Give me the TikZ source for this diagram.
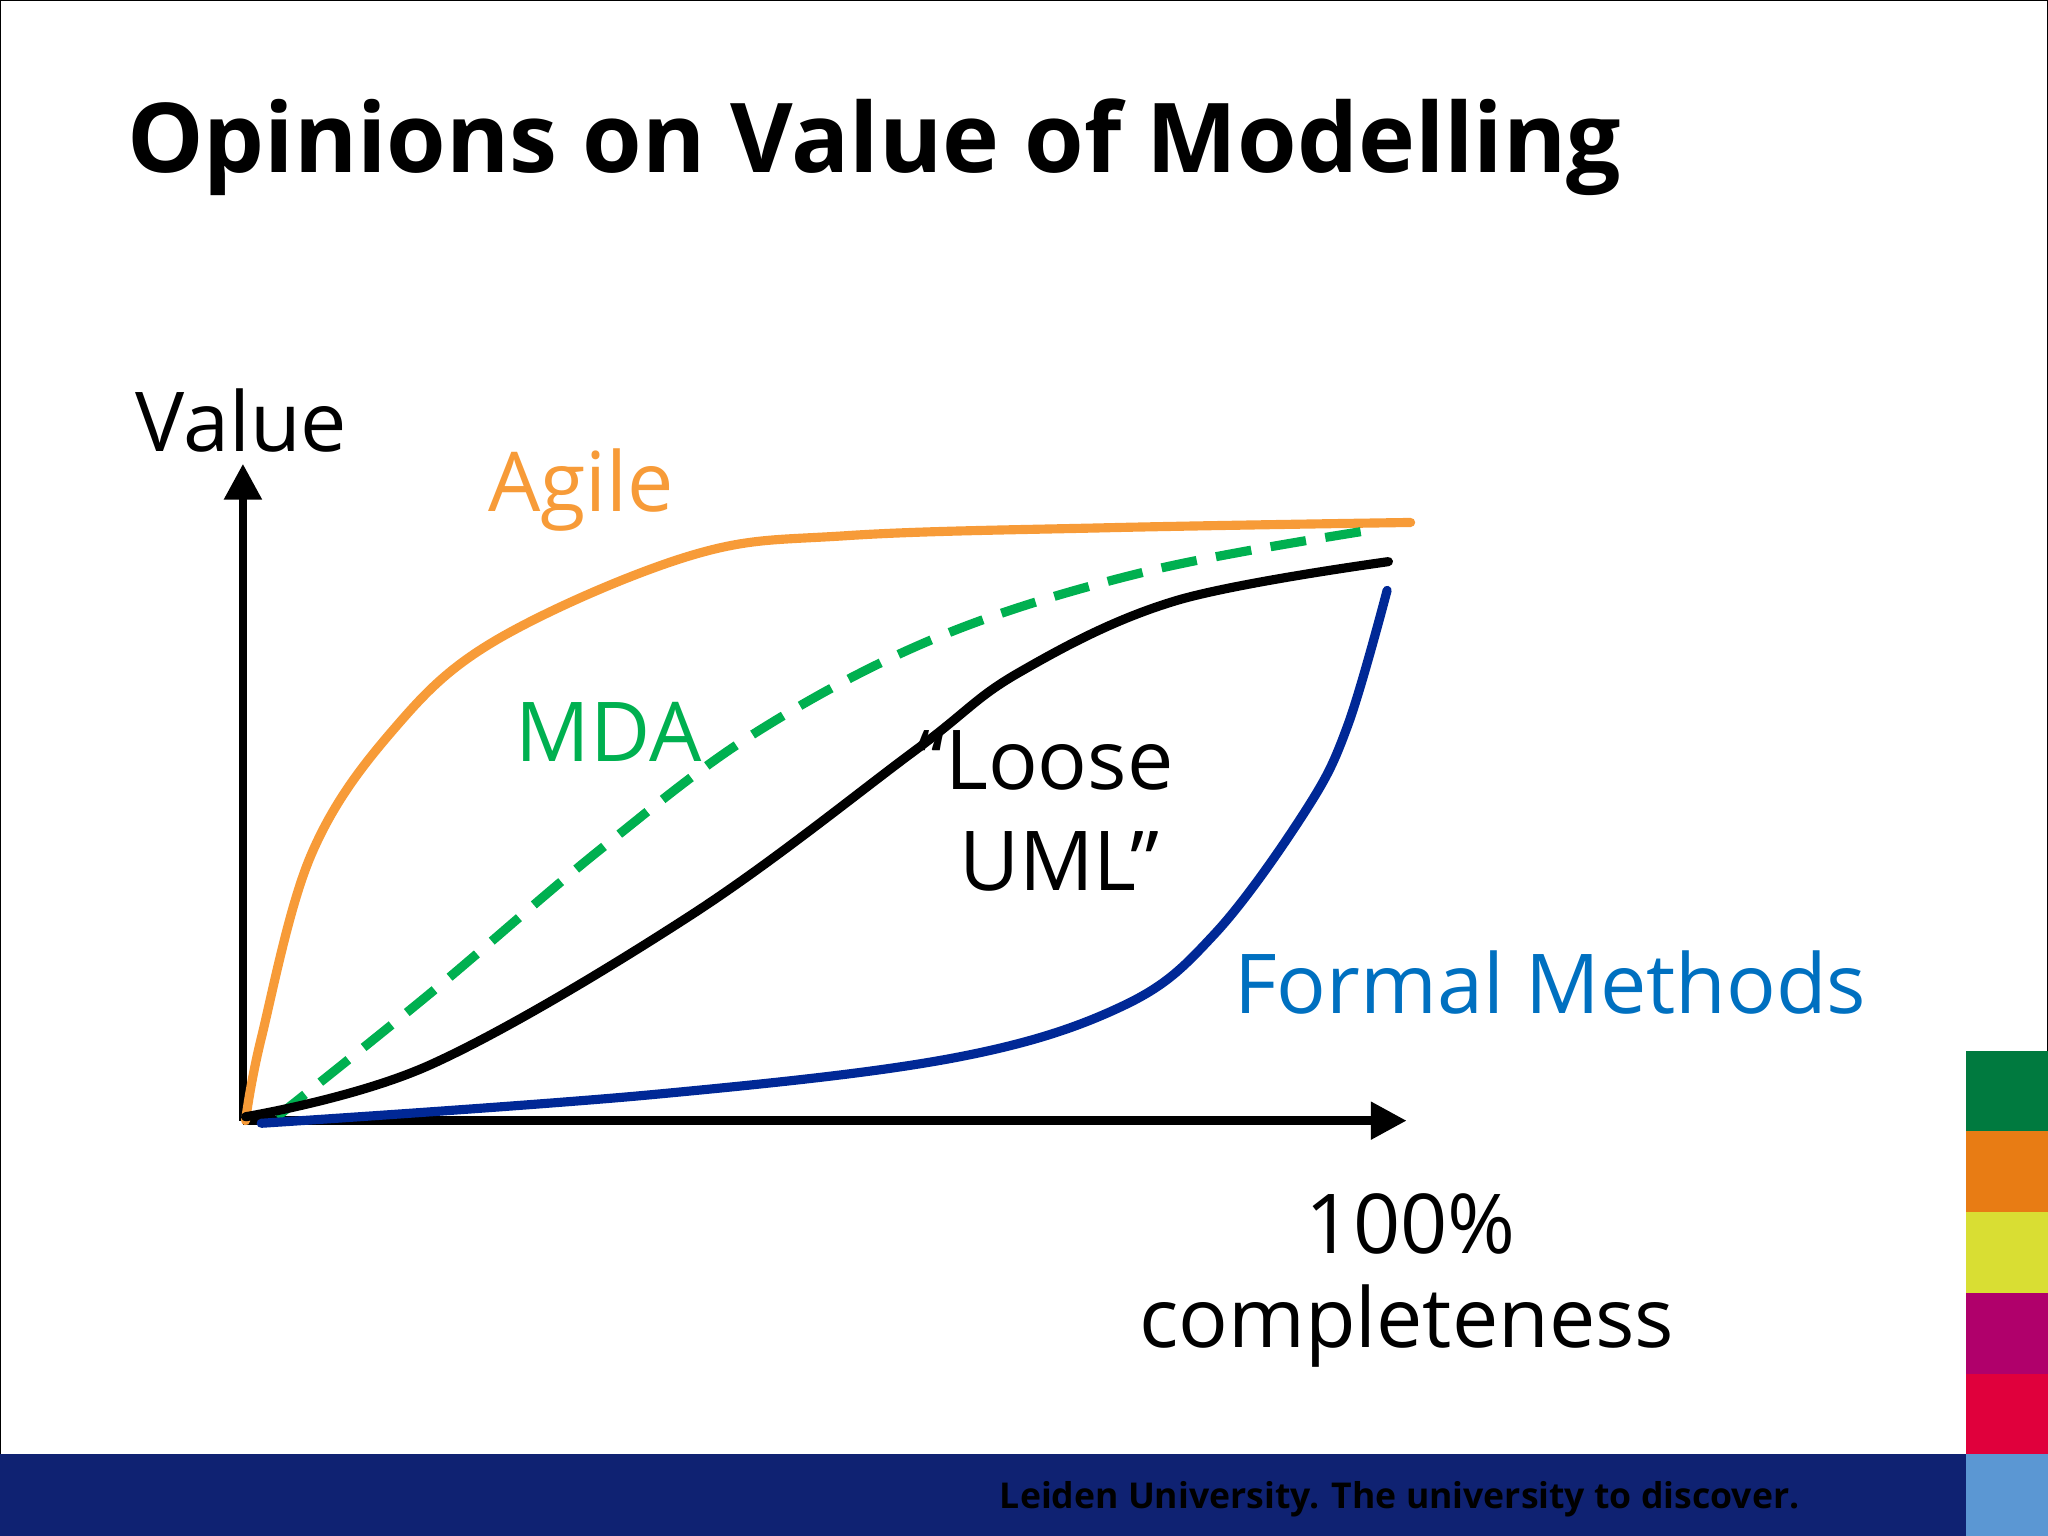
\documentclass[tikz,border=0pt]{standalone}
\usepackage{fontspec}
\setmainfont{Open Sans}
\usetikzlibrary{arrows.meta}
\begin{document}
\begin{tikzpicture}[x=0.02cm,y=-0.02cm,
  lbl/.style={font=\fontsize{36}{44}\selectfont,inner sep=0pt},
  curve/.style={line width=0.14cm,line cap=round},
  ax/.style={line width=0.13cm,-{Triangle[length=0.55cm,width=0.55cm]}}]
\useasboundingbox (0,0) rectangle (1568,1176);
\draw[line width=0.04cm] (0,0) rectangle (1568,1176);
\fill[fill={rgb,255:red,15;green,34;blue,114}] (0,1113) rectangle (1505,1176);
\fill[fill={rgb,255:red,0;green,122;blue,63}] (1505,805) rectangle (1568,866);
\fill[fill={rgb,255:red,232;green,124;blue,20}] (1505,866) rectangle (1568,928);
\fill[fill={rgb,255:red,217;green,222;blue,51}] (1505,928) rectangle (1568,990);
\fill[fill={rgb,255:red,176;green,0;blue,107}] (1505,990) rectangle (1568,1052);
\fill[fill={rgb,255:red,224;green,0;blue,60}] (1505,1052) rectangle (1568,1113);
\fill[fill={rgb,255:red,91;green,151;blue,211}] (1505,1113) rectangle (1568,1176);
\node[anchor=west,inner sep=0pt,font=\bfseries\fontsize{42}{50}\selectfont] (title) at (97,113) {Opinions on Value of Modelling};
\node[anchor=east,inner sep=0pt,font=\bfseries\fontsize{15.5}{18}\selectfont] (foot) at (1378,1148) {Leiden University. The university to discover.};
\coordinate (o) at (186,858);
\coordinate (ytop) at (186,355);
\coordinate (xend) at (1077,858);
\draw[ax] (o) -- (ytop);
\draw[ax] (o) -- (xend);
\draw[curve,color={rgb,255:red,247;green,155;blue,56}] plot[smooth,tension=0.6] coordinates {(188,858) (200,795) (238,655) (300,560) (380,490) (530,425) (650,410) (850,404) (1080,400)};
\draw[curve,color={rgb,255:red,0;green,176;blue,80},dash pattern=on 0.55cm off 0.3cm,line cap=butt] plot[smooth,tension=0.6] coordinates {(212,855) (330,760) (460,650) (580,560) (720,487) (880,437) (1055,405)};
\draw[curve,black] plot[smooth,tension=0.6] coordinates {(188,855) (330,815) (530,700) (700,575) (780,515) (900,460) (1063,430)};
\draw[curve,color={rgb,255:red,0;green,40;blue,150}] plot[smooth,tension=0.6] coordinates {(200,860) (500,838) (730,810) (860,770) (930,715) (1000,620) (1032,555) (1062,452)};
\node[lbl] (v) at (185,322) {Value};
\node[lbl,color={rgb,255:red,247;green,155;blue,56}] (ag) at (445,375) {Agile};
\node[lbl,color={rgb,255:red,0;green,176;blue,80}] (mda) at (466,560) {MDA};
\node[lbl,align=left] (uml) at (800,621) {“Loose\\\ \ UML”};
\node[lbl,color={rgb,255:red,0;green,112;blue,192}] (fm) at (1187,752) {Formal Methods};
\node[lbl] (p) at (1080,937) {100\%};
\node[lbl] (c) at (1077,1015) {completeness};
\end{tikzpicture}
\end{document}
